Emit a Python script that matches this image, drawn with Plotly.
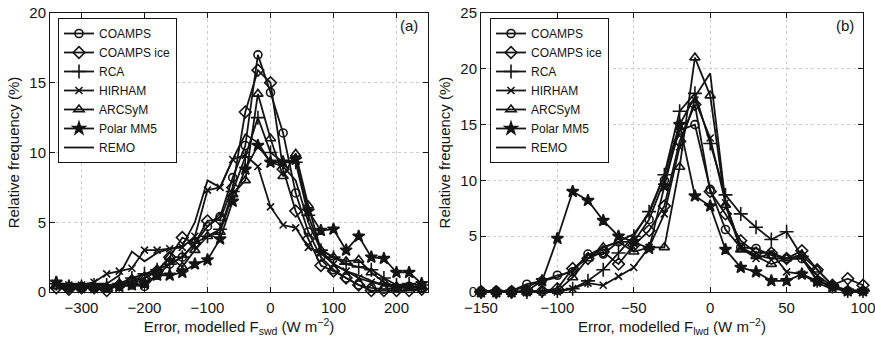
import plotly.graph_objects as go

# ---------------- data ----------------
SWD_X = [-340, -320, -300, -280, -260, -240, -220, -200, -180, -160, -140, -120, -100, -80, -60,
         -40, -20, 0, 20, 40, 60, 80, 100, 120, 140, 160, 180, 200, 220, 240]
LWD_X = [-150, -140, -130, -120, -110, -100, -90, -80, -70, -60, -50, -40, -30, -20, -10,
         0, 10, 20, 30, 40, 50, 60, 70, 80, 90, 100]

MODELS = ["COAMPS", "COAMPS ice", "RCA", "HIRHAM", "ARCSyM", "Polar MM5", "REMO"]

COAMPS_A = [0.5, 0.3, 0.3, 0.3, 0.3, 0.4, 0.5, 0.4, 1.2, 2.0, 2.5, 3.5, 4.7, 5.4, 8.2,
            10.5, 17.0, 14.3, 11.4, 7.1, 4.3, 2.5, 1.6, 1.0, 0.5, 0.3, 0.2, 0.3, 0.4, 0.3]
COAMPS_ICE_A = [0.3, 0.2, 0.3, 0.3, 0.1, 0.5, 0.8, 1.0, 1.5, 2.5, 3.9, 3.5, 5.1, 5.2, 7.5,
                12.9, 15.9, 15.0, 8.8, 5.8, 3.8, 1.9, 1.5, 1.0, 0.5, 0.1, 0.1, 0.1, 0.1, 0.2]
RCA_A = [0.6, 0.4, 0.4, 0.5, 0.5, 0.6, 1.0, 1.3, 1.6, 2.0, 2.5, 3.5, 4.0, 4.5, 7.2,
         9.7, 12.5, 10.0, 9.3, 9.3, 5.5, 3.0, 2.5, 2.0, 1.8, 1.6, 1.0, 0.5, 0.6, 0.5]
HIRHAM_A = [0.5, 0.5, 0.5, 0.7, 1.3, 1.5, 1.7, 3.0, 3.0, 3.1, 3.2, 4.0, 7.3, 7.5, 9.5,
            9.8, 9.0, 6.1, 4.8, 4.6, 3.2, 2.8, 2.0, 1.5, 1.0, 0.7, 0.5, 0.3, 0.3, 0.3]
ARCSYM_A = [0.4, 0.3, 0.3, 0.3, 0.3, 0.5, 0.8, 1.0, 1.5, 2.5, 1.8, 3.0, 4.0, 4.3, 7.0,
            8.0, 14.2, 11.0, 8.3, 9.9, 6.2, 3.0, 2.5, 2.2, 2.3, 1.4, 0.7, 0.4, 0.3, 0.4]
POLAR_A = [0.7, 0.4, 0.3, 0.3, 0.3, 0.4, 0.5, 0.6, 1.2, 1.2, 1.4, 2.0, 2.3, 3.8, 6.5,
           8.8, 10.5, 9.3, 9.3, 9.5, 5.8, 4.4, 4.5, 3.0, 4.0, 2.5, 2.4, 1.4, 1.4, 0.6]
REMO_A = [0.6, 0.6, 0.6, 0.6, 0.6, 1.2, 2.9, 2.2, 2.8, 3.1, 3.3, 5.0, 8.0, 7.5, 9.5,
          11.3, 10.7, 9.3, 9.0, 8.0, 5.0, 3.0, 2.0, 1.5, 1.2, 0.8, 0.5, 0.5, 0.4, 0.4]

COAMPS_B = [0.1, 0.1, 0.1, 0.7, 1.0, 1.5, 1.8, 3.4, 3.4, 4.5, 4.5, 6.5, 10.0, 14.5, 15.0,
            9.2, 5.6, 4.0, 3.9, 3.3, 3.0, 3.0, 1.0, 0.5, 0.1, 0.1]
COAMPS_ICE_B = [0.0, 0.0, 0.0, 0.1, 0.1, 0.3, 2.1, 3.0, 3.6, 2.5, 4.2, 5.5, 7.7, 13.5, 16.8,
                9.0, 7.0, 4.6, 3.5, 3.5, 3.0, 3.7, 2.0, 0.6, 1.2, 0.6]
RCA_B = [0.0, 0.0, 0.0, 0.0, 0.1, 0.1, 0.3, 1.0, 2.0, 3.5, 5.0, 7.2, 10.5, 16.2, 17.8,
         13.3, 8.7, 7.0, 5.8, 4.7, 5.4, 3.2, 1.0, 0.5, 0.1, 0.1]
HIRHAM_B = [0.0, 0.0, 0.0, 0.0, 0.0, 0.0, 0.3, 0.8, 0.6, 1.4, 2.2, 4.0, 7.0, 13.0, 17.2,
            13.8, 8.0, 4.0, 3.0, 3.5, 1.8, 1.6, 0.8, 0.3, 0.1, 0.1]
ARCSYM_B = [0.0, 0.0, 0.0, 0.0, 0.1, 0.1, 1.3, 3.0, 4.0, 4.5, 3.6, 4.0, 4.0, 11.2, 21.0,
            17.6, 7.8, 3.8, 3.2, 2.5, 3.0, 3.3, 2.0, 0.6, 0.1, 0.1]
POLAR_B = [0.0, 0.0, 0.0, 0.1, 1.0, 4.8, 9.0, 8.2, 6.4, 5.0, 4.5, 3.9, 9.5, 15.0, 8.6,
           7.7, 3.8, 2.2, 1.8, 1.0, 1.0, 1.6, 1.0, 0.5, 0.1, 0.1]
REMO_B = [0.0, 0.0, 0.1, 0.5, 1.0, 1.3, 2.0, 3.3, 4.0, 4.5, 5.2, 7.0, 10.5, 15.0, 17.5,
          19.6, 8.0, 4.0, 3.3, 3.0, 3.0, 3.0, 1.5, 0.5, 0.2, 0.1]

SERIES_A = [COAMPS_A, COAMPS_ICE_A, RCA_A, HIRHAM_A, ARCSYM_A, POLAR_A, REMO_A]
SERIES_B = [COAMPS_B, COAMPS_ICE_B, RCA_B, HIRHAM_B, ARCSYM_B, POLAR_B, REMO_B]

# ---------------- styles ----------------
INK = "#141414"
MARKERS = [
    dict(symbol="circle-open", size=8),
    dict(symbol="diamond-open", size=9),
    dict(symbol="cross-thin-open", size=10),
    dict(symbol="x-thin-open", size=7),
    dict(symbol="triangle-up-open", size=9),
    dict(symbol="star", size=9),
    None,
]
FONT = "Liberation Sans, Arial, Helvetica, sans-serif"

fig = go.Figure()

for xs, series, xa, ya, lg in [
        (SWD_X, SERIES_A, "x", "y", "legend"),
        (LWD_X, SERIES_B, "x2", "y2", "legend2")]:
    for name, ys, mk in zip(MODELS, series, MARKERS):
        if mk is None:
            mode = "lines"
            marker = None
        else:
            mode = "lines+markers"
            marker = dict(symbol=mk["symbol"], size=mk["size"], color=INK,
                          line=dict(color=INK, width=1.6))
        fig.add_trace(go.Scatter(
            x=xs, y=ys, name=name, mode=mode,
            line=dict(color=INK, width=1.8),
            marker=marker, xaxis=xa, yaxis=ya, legend=lg,
            cliponaxis=False,
        ))

W, H = 875, 343
ax_common = dict(
    showline=True, linecolor=INK, linewidth=1, mirror="ticks",
    ticks="inside", ticklen=5, tickcolor=INK, tickwidth=1,
    showgrid=True, gridcolor="#cccccc", griddash="dot", gridwidth=1,
    zeroline=False, tickfont=dict(size=15, color=INK, family=FONT),
    automargin=False, ticklabeloverflow="allow",
)
ydom = [51 / H, 330 / H]
title_font = dict(size=15, color=INK, family=FONT)
legend_common = dict(
    xanchor="left", yanchor="top", bordercolor=INK, borderwidth=1, bgcolor="white",
    font=dict(size=12, family=FONT, color=INK), tracegroupgap=0, itemwidth=30,
)

fig.update_layout(
    width=W, height=H,
    margin=dict(l=0, r=0, t=0, b=0),
    paper_bgcolor="white", plot_bgcolor="white",
    font=dict(family=FONT, color=INK),
    xaxis=dict(domain=[50 / W, 428 / W], range=[-350, 250], dtick=100, anchor="y",
               title=dict(text="Error, modelled F<sub>swd</sub> (W m<sup>−2</sup>)",
                          font=title_font, standoff=4),
               ticklabelstandoff=2, **ax_common),
    yaxis=dict(domain=ydom, range=[0, 20], dtick=5, anchor="x",
               title=dict(text="Relative frequency (%)", font=title_font, standoff=6),
               **ax_common),
    xaxis2=dict(domain=[481 / W, 863 / W], range=[-150, 100], dtick=50, anchor="y2",
                title=dict(text="Error, modelled F<sub>lwd</sub> (W m<sup>−2</sup>)",
                           font=title_font, standoff=4),
                ticklabelstandoff=2, **ax_common),
    yaxis2=dict(domain=ydom, range=[0, 25], dtick=5, anchor="x2",
                title=dict(text="Relative frequency (%)", font=title_font, standoff=6),
                **ax_common),
    legend=dict(x=58 / W, y=1 - 18 / H, **legend_common),
    legend2=dict(x=490 / W, y=1 - 18 / H, **legend_common),
    annotations=[
        dict(text="(a)", x=420 / W, y=1 - 25 / H, xref="paper", yref="paper",
             xanchor="right", yanchor="middle", showarrow=False,
             font=dict(size=15, family=FONT, color=INK)),
        dict(text="(b)", x=856 / W, y=1 - 25 / H, xref="paper", yref="paper",
             xanchor="right", yanchor="middle", showarrow=False,
             font=dict(size=15, family=FONT, color=INK)),
    ],
)

fig.write_html("out.html")
